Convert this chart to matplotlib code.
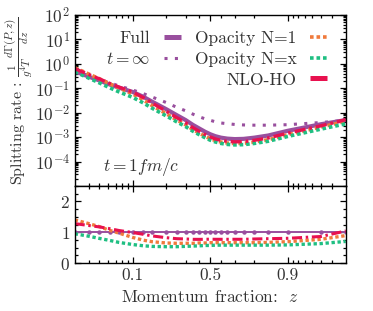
import numpy as np
import matplotlib
matplotlib.use("Agg")
import matplotlib.pyplot as plt
from matplotlib.lines import Line2D
from matplotlib.ticker import FixedLocator, LogLocator, MultipleLocator, NullFormatter

plt.rcParams['font.family'] = 'serif'
plt.rcParams['font.serif'] = ['cmr10']
plt.rcParams['mathtext.fontset'] = 'cm'
plt.rcParams['axes.formatter.use_mathtext'] = True
plt.rcParams['axes.unicode_minus'] = False
plt.rcParams['font.size'] = 12.5

TXT = '#333333'

# momentum fraction grid
z = [0.03, 0.04, 0.05, 0.0625, 0.075, 0.1, 0.125, 0.15, 0.2, 0.25, 0.3, 0.35, 0.4,
     0.45, 0.5, 0.55, 0.6, 0.65, 0.7, 0.75, 0.8, 0.85, 0.9, 0.95, 0.97]

# splitting rates
full = [0.501, 0.302, 0.209, 0.141, 0.107, 0.0708, 0.0447, 0.0282, 0.0141, 7.94e-3,
        5.01e-3, 3.16e-3, 2.24e-3, 1.66e-3, 1.32e-3, 1.10e-3, 9.55e-4, 8.71e-4,
        8.32e-4, 8.51e-4, 9.55e-4, 1.17e-3, 1.82e-3, 3.39e-3, 5.01e-3]
t_inf = [0.525, 0.331, 0.234, 0.166, 0.126, 0.0851, 0.0603, 0.0437, 0.0263, 0.0166,
         0.0120, 8.71e-3, 6.76e-3, 5.62e-3, 4.90e-3, 4.27e-3, 3.80e-3, 3.55e-3,
         3.31e-3, 3.16e-3, 3.09e-3, 3.09e-3, 3.24e-3, 3.98e-3, 4.90e-3]
op_n1 = [0.701, 0.387, 0.247, 0.149, 0.104, 0.0588, 0.0331, 0.0195, 9.17e-3, 5.08e-3,
         3.21e-3, 2.02e-3, 1.46e-3, 1.08e-3, 8.71e-4, 7.26e-4, 6.30e-4, 5.75e-4,
         5.49e-4, 5.62e-4, 6.30e-4, 7.84e-4, 1.26e-3, 2.61e-3, 4.46e-3]
op_nx = [0.476, 0.263, 0.167, 0.103, 0.0717, 0.0425, 0.0250, 0.0152, 7.47e-3, 4.21e-3,
         2.71e-3, 1.74e-3, 1.25e-3, 9.46e-4, 7.52e-4, 6.38e-4, 5.54e-4, 5.05e-4,
         4.83e-4, 4.94e-4, 5.54e-4, 6.79e-4, 1.07e-3, 2.14e-3, 3.51e-3]
nlo_ho = [0.641, 0.368, 0.245, 0.157, 0.113, 0.0701, 0.0416, 0.0248, 0.0116, 6.27e-3,
          3.91e-3, 2.43e-3, 1.72e-3, 1.28e-3, 1.02e-3, 8.47e-4, 7.35e-4, 6.71e-4,
          6.41e-4, 6.55e-4, 7.45e-4, 9.24e-4, 1.46e-3, 2.92e-3, 5.21e-3]

C_FULL = '#994f9e'
C_N1 = '#f07a3c'
C_NX = '#1fbf82'
C_NLO = '#e8114f'


# log in z below 1/2, log in 1-z above
def fwd(x):
    x = np.clip(np.asarray(x, dtype=float), 1e-9, 1 - 1e-9)
    with np.errstate(all='ignore'):
        return np.where(x <= 0.5, np.log10(2 * x), -np.log10(2 * (1 - x)))


def inv(u):
    u = np.asarray(u, dtype=float)
    with np.errstate(all='ignore'):
        return np.where(u <= 0, 0.5 * 10.0 ** u, 1 - 0.5 * 10.0 ** (-u))


zz = np.array(z)
fl = np.array(full)

fig = plt.figure(figsize=(3.73, 3.11), dpi=100)
ax1 = fig.add_axes([0.2003, 0.4019, 0.7265, 0.5498])
ax2 = fig.add_axes([0.2003, 0.1543, 0.7265, 0.2476], sharex=ax1)

# --- top panel ---
ax1.plot(zz, full, color=C_FULL, lw=3.0, solid_capstyle='butt')
ax1.plot(zz, t_inf, color=C_FULL, lw=2.2, ls=(0, (1, 2.4)))
ax1.plot(zz, op_n1, color=C_N1, lw=2.6, ls=(0, (1, 0.8)))
ax1.plot(zz, op_nx, color=C_NX, lw=2.6, ls=(0, (1, 0.8)))
ax1.plot(zz, nlo_ho, color=C_NLO, lw=2.4, ls=(0, (3.3, 1.2, 0.8, 1.2)))

ax1.set_yscale('log')
ax1.set_ylim(1e-5, 1e2)
ax1.yaxis.set_major_locator(FixedLocator([1e-4, 1e-3, 1e-2, 1e-1, 1e0, 1e1, 1e2]))
ax1.yaxis.set_minor_locator(LogLocator(subs=np.arange(2, 10), numticks=100))
ax1.yaxis.set_minor_formatter(NullFormatter())
ax1.set_ylabel(r'Splitting rate : $\frac{1}{g^4T}\frac{d\Gamma(P,z)}{dz}$',
               color=TXT, fontsize=11.5)
ax1.yaxis.set_label_coords(-0.145, 0.5)

ax1.text(0.245, 0.11, r'$t=1fm/c$', transform=ax1.transAxes,
         ha='center', va='center', color=TXT)

# legend, gnuplot style: text right aligned, sample to the right
handles = [
    Line2D([], [], color=C_FULL, lw=3.6, solid_capstyle='butt'),
    Line2D([], [], color=C_FULL, lw=2.2, ls=(0, (1, 2.4))),
    Line2D([], [], color='none'),
    Line2D([], [], color=C_N1, lw=2.6, ls=(0, (1, 0.8))),
    Line2D([], [], color=C_NX, lw=2.6, ls=(0, (1, 0.8))),
    Line2D([], [], color=C_NLO, lw=3.6, solid_capstyle='butt'),
]
labels = ['Full', r'$t=\infty$', '', 'Opacity N=1', 'Opacity N=x', 'NLO-HO']
leg = ax1.legend(handles, labels, ncol=2, loc='upper right',
                 bbox_to_anchor=(0.931, 0.91), frameon=False, markerfirst=False,
                 handlelength=1.0, handletextpad=0.75, columnspacing=0.8,
                 labelspacing=0.32, borderpad=0, borderaxespad=0)
for col in leg._legend_handle_box.get_children():
    col.align = 'right'
for t in leg.get_texts():
    t.set_color(TXT)

# --- ratio panel ---
ax2.plot(zz, fl / fl, color=C_FULL, lw=1.4, marker='o', ms=2.2)
ax2.plot(zz, np.array(op_n1) / fl, color=C_N1, lw=2.4, ls=(0, (1, 0.8)))
ax2.plot(zz, np.array(op_nx) / fl, color=C_NX, lw=2.4, ls=(0, (1, 0.8)))
ax2.plot(zz, np.array(nlo_ho) / fl, color=C_NLO, lw=2.2, ls=(0, (3.3, 1.2, 0.8, 1.2)))
ax2.set_ylim(0, 2.5)
ax2.yaxis.set_major_locator(FixedLocator([0, 1, 2]))
ax2.yaxis.set_minor_locator(MultipleLocator(0.25))

ax2.set_xscale('function', functions=(fwd, inv))
ax2.set_xlim(0.03, 0.97)
ax2.xaxis.set_major_locator(FixedLocator([0.1, 0.5, 0.9]))
ax2.xaxis.set_minor_locator(FixedLocator(
    [0.04, 0.05, 0.06, 0.07, 0.08, 0.09, 0.2, 0.3, 0.4, 0.6, 0.7, 0.8,
     0.91, 0.92, 0.93, 0.94, 0.95, 0.96]))
ax2.set_xticklabels(['0.1', '0.5', '0.9'])
ax2.xaxis.set_minor_formatter(NullFormatter())
ax2.set_xlabel(r'Momentum fraction:  $z$', color=TXT)
plt.setp(ax1.get_xticklabels(), visible=False)

for ax in (ax1, ax2):
    ax.tick_params(which='both', direction='in', top=True, right=True,
                   colors='black', labelcolor=TXT, width=0.9)
    ax.tick_params(which='major', length=4.5)
    ax.tick_params(which='minor', length=2.5)
    for s in ax.spines.values():
        s.set_linewidth(1.0)

fig.savefig('out.png', dpi=100)
